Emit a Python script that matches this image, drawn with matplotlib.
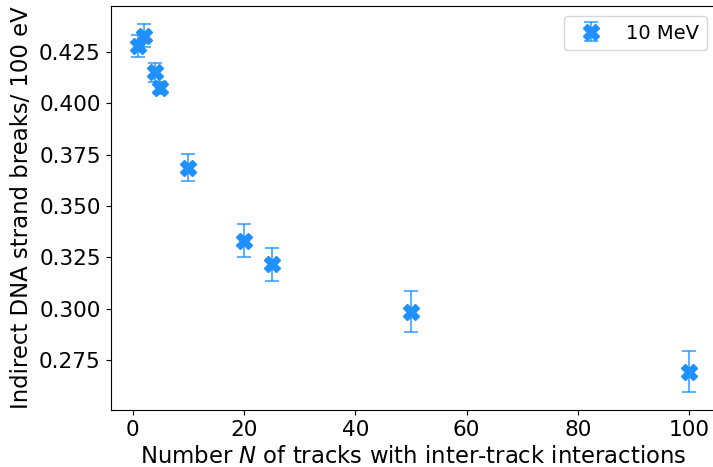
import numpy as np
import matplotlib.pyplot as plt

# Number of tracks and yields
n_tracks = [1, 2, 4, 5, 10, 20, 25, 50, 100]
ssb_yield = [0.4280, 0.4330, 0.4150, 0.4075, 0.3685, 0.3330, 0.3215, 0.2985, 0.2693]
ssb_err = [0.0054, 0.0054, 0.0046, 0.0030, 0.0066, 0.0080, 0.0080, 0.0098, 0.0098]

fig = plt.figure(figsize=(7.13, 4.67), dpi=100)
ax = fig.add_subplot(111)
fig.subplots_adjust(left=0.155, right=1.0056, top=0.987, bottom=0.122)

eb = ax.errorbar(n_tracks, ssb_yield, yerr=ssb_err, fmt='X', color='dodgerblue',
                 markersize=11, capsize=5, elinewidth=1.5, capthick=1.5,
                 label='10 MeV')
for line in eb[1]:
    line.set_alpha(0.7)
for col in eb[2]:
    col.set_alpha(0.7)

ax.set_xlabel('Number $N$ of tracks with inter-track interactions', fontsize=16.4)
ax.set_ylabel('Indirect DNA strand breaks/ 100 eV', fontsize=16.4)
ax.tick_params(labelsize=15.6)
ax.set_yticks([0.275, 0.300, 0.325, 0.350, 0.375, 0.400, 0.425])
ax.legend(fontsize=14, loc='upper right')

plt.savefig('out.png', dpi=100)
